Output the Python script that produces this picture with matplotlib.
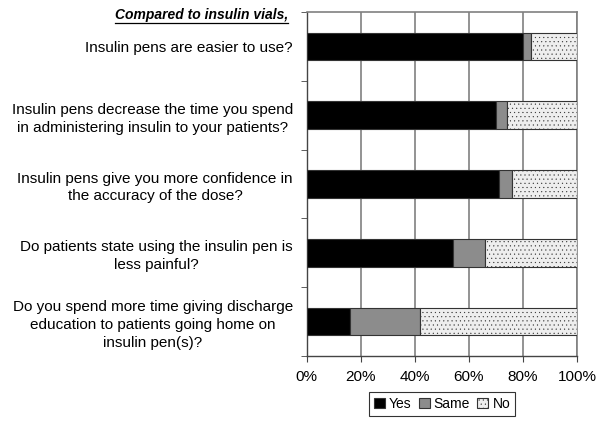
import matplotlib.pyplot as plt
import numpy as np
from matplotlib.lines import Line2D

plt.rcParams['font.family'] = ['Liberation Sans', 'DejaVu Sans']

# Dados (percentual)
questions = [
    "Insulin pens are easier to use?",
    "Insulin pens decrease the time you spend\nin administering insulin to your patients?",
    "Insulin pens give you more confidence in\nthe accuracy of the dose?",
    "Do patients state using the insulin pen is\nless painful?",
    "Do you spend more time giving discharge\neducation to patients going home on\ninsulin pen(s)?",
]
yes = [80, 70, 71, 54, 16]
same = [3, 4, 5, 12, 26]
no = [17, 26, 24, 34, 58]
xticks = [0, 20, 40, 60, 80, 100]

fig = plt.figure(figsize=(5.97, 4.26), dpi=100)
ax = fig.add_axes([0.514, 0.1643, 0.4525, 0.8075])

pos = np.arange(len(questions))
yes_a = np.array(yes)
same_a = np.array(same)
no_a = np.array(no)

ax.barh(pos, yes_a, height=0.4, color='black', edgecolor='#333333', linewidth=0.8, label='Yes', zorder=3)
ax.barh(pos, same_a, left=yes_a, height=0.4, color='#8c8c8c', edgecolor='#333333', linewidth=0.8, label='Same', zorder=3)
plt.rcParams['hatch.color'] = '#dcdcdc'
plt.rcParams['hatch.linewidth'] = 0.3
ax.barh(pos, no_a, left=yes_a + same_a, height=0.4, color='#eeeeee', edgecolor='#333333', linewidth=0.8,
        hatch='....', label='No', zorder=3)

ax.set_xlim(0, 100)
ax.set_ylim(len(questions) - 0.5, -0.5)
ax.set_xticks(xticks)
ax.set_xticklabels([f"{v}%" for v in xticks], fontsize=11)
ax.set_yticks(pos)
ax.set_yticklabels(questions, fontsize=11, multialignment='center', linespacing=1.35)
ax.set_yticks(np.arange(-0.5, len(questions), 1), minor=True)
ax.tick_params(axis='y', which='major', length=0, pad=10)
ax.tick_params(axis='y', which='minor', length=4, direction='out', color='#444444')
ax.tick_params(axis='x', length=4, direction='out', color='#444444', pad=6)
ax.xaxis.grid(True, color='#808080', linewidth=1.2, zorder=0)
ax.set_axisbelow(True)

for s in ['top', 'right']:
    ax.spines[s].set_color('#808080')
    ax.spines[s].set_linewidth(1.2)
for s in ['left', 'bottom']:
    ax.spines[s].set_color('#444444')
    ax.spines[s].set_linewidth(1.0)

leg = ax.legend(loc='upper center', bbox_to_anchor=(0.5, -0.105), ncol=3, frameon=True, fancybox=False,
                edgecolor='black', fontsize=10, handlelength=0.8, handleheight=0.8, handletextpad=0.3,
                columnspacing=0.5, borderpad=0.35, borderaxespad=0)
leg.get_frame().set_linewidth(0.8)

# Título sublinhado
t = fig.text(288 / 597, 1 - 15 / 426, "Compared to insulin vials,", ha='right', va='center',
             fontsize=10, fontweight='bold', fontstyle='italic')
fig.canvas.draw()
bb = t.get_window_extent()
fig.add_artist(Line2D([bb.x0, bb.x1], [bb.y0 - 0.5, bb.y0 - 0.5], transform=None, color='black', linewidth=0.9))

fig.savefig('out.png', dpi=100)
